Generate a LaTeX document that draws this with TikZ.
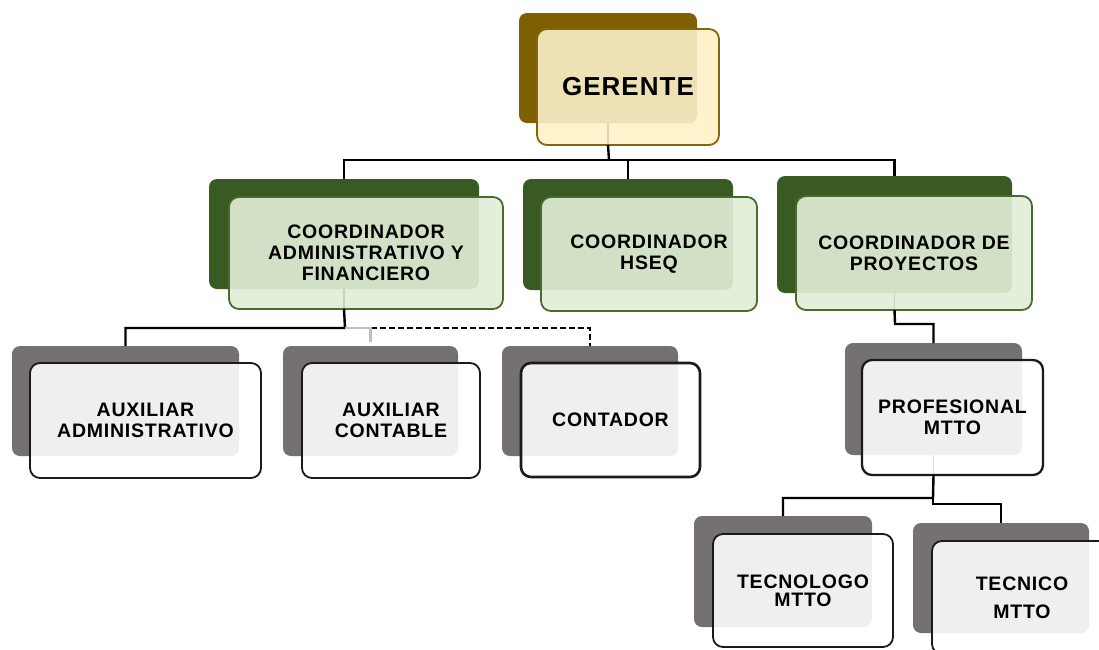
\documentclass[tikz,border=0pt]{standalone}
\usepackage{fontspec}
\newfontfamily\boxfont{Liberation Sans}[LetterSpace=4]
\usetikzlibrary{calc}
\definecolor{goldBack}{HTML}{7F6000}
\definecolor{goldFront}{HTML}{FFF2CC}
\definecolor{goldOvl}{HTML}{EEE1B6}
\definecolor{goldLine}{HTML}{85650A}
\definecolor{greenBack}{HTML}{3A5A24}
\definecolor{greenFront}{HTML}{E3EFDA}
\definecolor{greenOvl}{HTML}{D2E1C5}
\definecolor{greenLine}{HTML}{4A6B2F}
\definecolor{grayBack}{HTML}{767171}
\definecolor{grayFront}{HTML}{FFFFFF}
\definecolor{grayOvl}{HTML}{EFEFEF}
\definecolor{grayLine}{HTML}{1A1A1A}
\tikzset{
  backbox/.style={rounded corners=8pt, inner sep=0pt, outer sep=0pt},
  frontbox/.style={rounded corners=10pt, line width=1.8pt, inner sep=0pt, outer sep=0pt,
    align=center, font=\boxfont\bfseries\fontsize{19.5}{21}\selectfont},
  faint/.style={draw=black, draw opacity=0.13, line width=1.6pt},
  nofaint/.style={faint/.style={draw opacity=0}},
  conn/.style={draw=black, line width=2.4pt},
  grayconn/.style={draw=black!25, line width=2.4pt},
  dashconn/.style={draw=black, line width=2.4pt, dash pattern=on 6pt off 3pt},
}
% name, scheme, back NW, back SE, front NW, front SE, text, extra front options
\newcommand\orgunit[8]{%
  \path let \p1=(#3), \p2=(#4) in
    node[backbox, fill=#2Back, minimum width={\x2-\x1}, minimum height={\y1-\y2}]
      (#1B) at ($(\p1)!0.5!(\p2)$) {};
  \path let \p1=(#5), \p2=(#6) in
    node[frontbox, draw=#2Line, fill=#2Front, minimum width={\x2-\x1}, minimum height={\y1-\y2},
      path picture={
        \fill[#2Ovl, rounded corners=8pt] (#1B.north west) rectangle (#1B.south east);
        \draw[faint] (#1B.south) -- (#1B.south |- path picture bounding box.south);
      }, #8]
      (#1F) at ($(\p1)!0.5!(\p2)$) {#7};
}
\begin{document}
\begin{tikzpicture}[x=1pt, y=-1pt]
\useasboundingbox (0,0) rectangle (1099,649);
\clip (0,0) rectangle (1099,649);
\fill[white] (0,0) rectangle (1099,649);

\orgunit{ger}{gold}{519,13}{697,123}{537,29}{719,145}{GERENTE}{font=\boxfont\bfseries\fontsize{26}{28}\selectfont}
\orgunit{ca}{green}{209,179}{479,289}{229,197}{503,309}{COORDINADOR\\ADMINISTRATIVO Y\\FINANCIERO}{}
\orgunit{hs}{green}{523,179}{733,290}{541,197}{757,311}{COORDINADOR\\HSEQ}{nofaint}
\orgunit{cp}{green}{777,176}{1012,293}{796,196}{1032,310}{COORDINADOR DE\\PROYECTOS}{}
\orgunit{aa}{gray}{12,346}{239,456}{30,363}{261,478}{AUXILIAR\\ADMINISTRATIVO}{nofaint}
\orgunit{ac}{gray}{283,346}{458,456}{302,363}{480,478}{AUXILIAR\\CONTABLE}{nofaint}
\orgunit{ct}{gray}{502,346}{678,456}{521,363}{700,477}{CONTADOR}{nofaint, line width=2.6pt}
\orgunit{pf}{gray}{845,343}{1022,455}{862,360}{1043,475}{PROFESIONAL\\MTTO}{line width=2.3pt}
\orgunit{tg}{gray}{694,516}{872,627}{713,534}{893,647}{TECNOLOGO\\[-3pt]MTTO}{nofaint}
\orgunit{tc}{gray}{913,523}{1089,633}{932,541}{1112,654}{TECNICO\\[7pt]MTTO}{nofaint}

% junctions
\coordinate (j0) at (609,160);
\coordinate (j1) at (345,328);
\coordinate (j2) at (895,324);
\coordinate (j3) at (933,498);
\coordinate (j4) at (933,504);

\draw[conn] (gerB.south |- gerF.south) -- (j0);
\draw[conn] (j0) -| (caB.north);
\draw[conn] (j0) -| (hsB.north);
\draw[conn] (j0) -| (cpB.north);

\draw[conn] (caB.south |- caF.south) -- (j1) -| (aaB.north);
\draw[dashconn] (acB.north |- j1) -| (ctB.north);
\draw[grayconn] (j1) -| ([yshift=4pt]acB.north);

\draw[conn] (cpB.south |- cpF.south) -- (j2) -| (pfB.north);
\draw[conn] (pfB.south |- pfF.south) -- (j3) -| (tgB.north);
\draw[conn] (j3) -- (j4) -| (tcB.north);
\end{tikzpicture}
\end{document}
